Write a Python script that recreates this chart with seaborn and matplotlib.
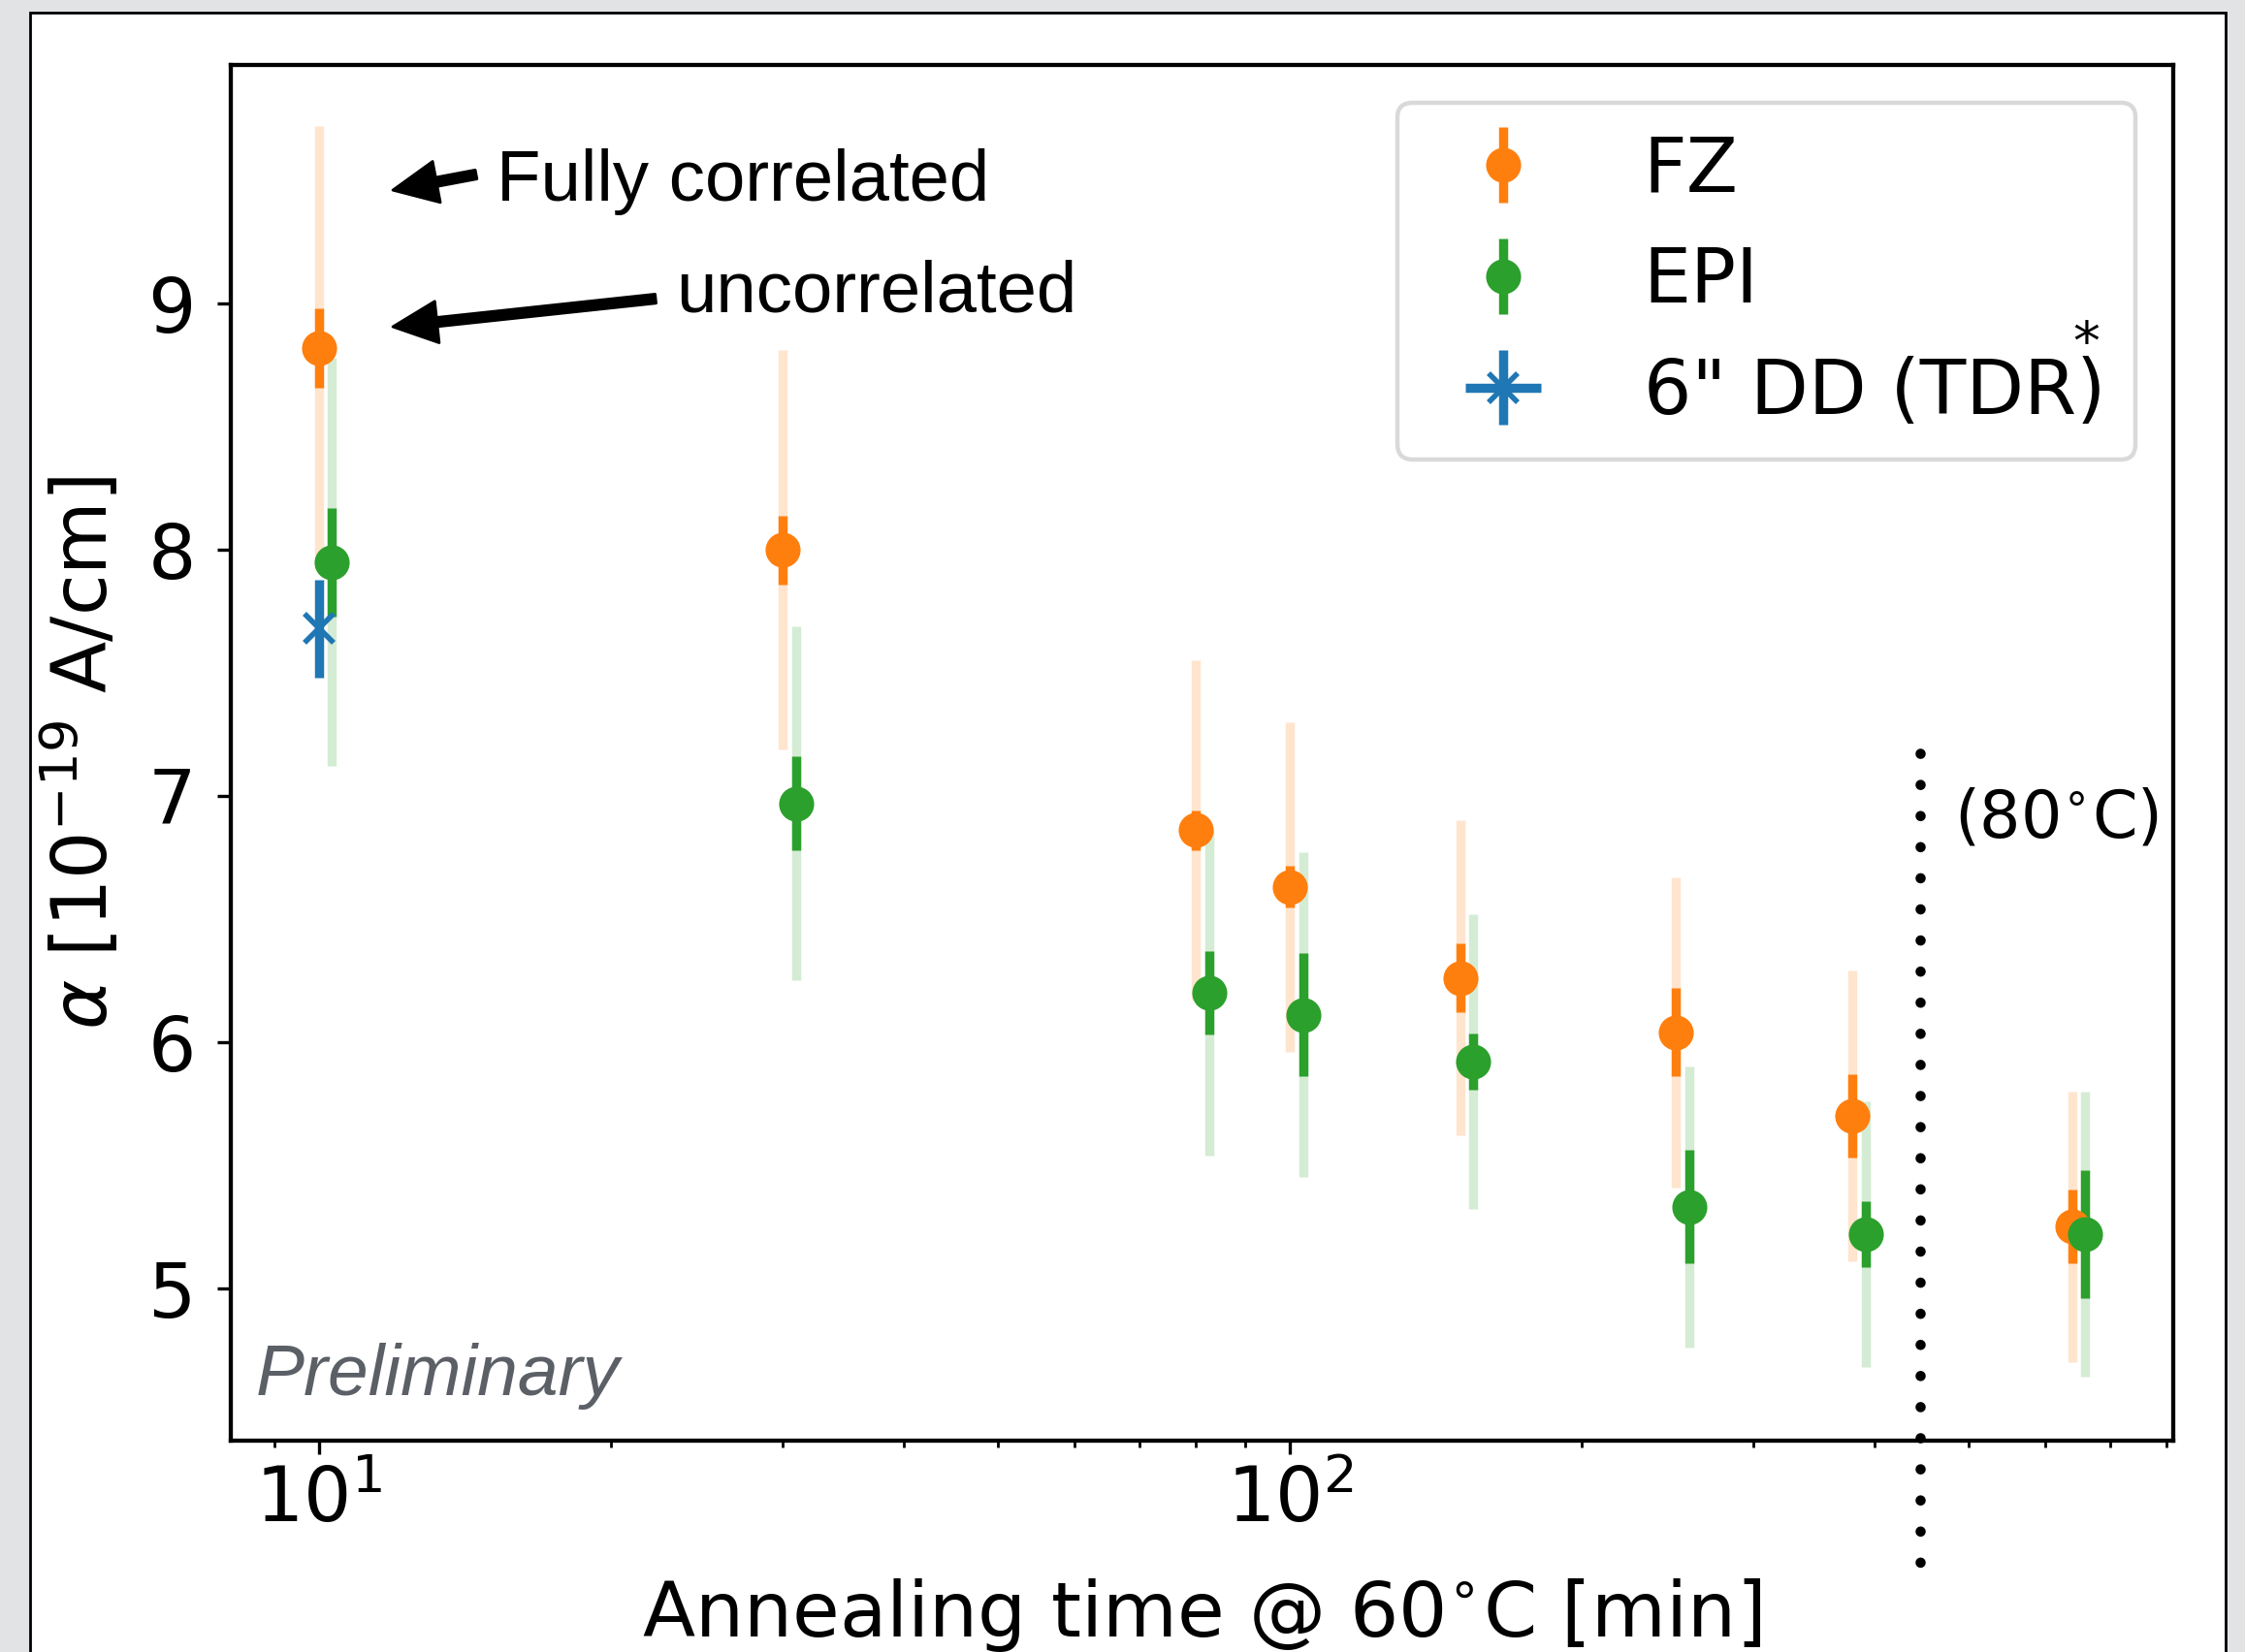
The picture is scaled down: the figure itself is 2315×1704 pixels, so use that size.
import numpy as np
import pandas as pd
import matplotlib
matplotlib.use('Agg')
import matplotlib.pyplot as plt
import seaborn as sns
from matplotlib.patches import Rectangle
from matplotlib.transforms import IdentityTransform
from matplotlib.ticker import NullFormatter

# ---------------- data ----------------
fz_time = [10, 30, 80, 100, 150, 250, 380, 640]
fz_alpha = [8.82, 8.00, 6.86, 6.63, 6.26, 6.04, 5.70, 5.25]
fz_err_uncorr = [0.16, 0.14, 0.08, 0.085, 0.14, 0.18, 0.17, 0.15]
fz_err_full = [0.90, 0.81, 0.69, 0.67, 0.64, 0.63, 0.59, 0.55]

epi_time = [10.3, 31.0, 82.6, 103.2, 154.5, 258, 392, 660]
epi_alpha = [7.95, 6.97, 6.20, 6.11, 5.92, 5.33, 5.22, 5.22]
epi_err_uncorr = [0.22, 0.19, 0.17, 0.25, 0.115, 0.23, 0.135, 0.26]
epi_err_full = [0.83, 0.72, 0.66, 0.66, 0.60, 0.57, 0.54, 0.58]

dd_time = [10]
dd_alpha = [7.68]
dd_err = [0.20]

separator_time = 446
separator_span = [0.5, -0.095]   # axes fraction, top -> bottom
labels = ['FZ', 'EPI', '6" DD (TDR)']

# ---------------- style ----------------
sns.set_theme(style='ticks')
plt.rcParams['font.family'] = ['DejaVu Sans']
plt.rcParams['mathtext.fontset'] = 'dejavusans'
FS = 28

pal = sns.color_palette('tab10')
c_dd, c_fz, c_epi = pal[0], pal[1], pal[2]

W, H, DPI = 2315, 1704, 200
fig = plt.figure(figsize=(W / DPI, H / DPI), dpi=DPI, facecolor='#e2e3e5')
fig.patches.append(Rectangle((31 / W, -0.02), (2295 - 31) / W, 1.02 - 13.3 / H,
                             transform=fig.transFigure, facecolor='white',
                             edgecolor='black', lw=1.0, zorder=-10))
ax = fig.add_axes([238 / W, 1 - 1486 / H, 2003 / W, 1419 / H])
ax.set_facecolor('white')

fz = pd.DataFrame({'t': fz_time, 'a': fz_alpha, 'eu': fz_err_uncorr, 'ef': fz_err_full})
epi = pd.DataFrame({'t': epi_time, 'a': epi_alpha, 'eu': epi_err_uncorr, 'ef': epi_err_full})

EW = 3.4
for df, col, lab in [(fz, c_fz, labels[0]), (epi, c_epi, labels[1])]:
    ax.errorbar(df['t'], df['a'], yerr=df['ef'], fmt='none', ecolor=col,
                alpha=0.2, elinewidth=EW)
    ax.errorbar(df['t'], df['a'], yerr=df['eu'], fmt='o', color=col, ms=12,
                elinewidth=EW, label=lab)

ax.errorbar(dd_time, dd_alpha, yerr=dd_err, xerr=[0], fmt='x', color=c_dd,
            ms=11, mew=2.0, elinewidth=EW, label=labels[2])

ax.plot([separator_time, separator_time], separator_span,
        transform=ax.get_xaxis_transform(), color='black', lw=3.8,
        linestyle=(0, (0.01, 3.03)), dash_capstyle='round', clip_on=False)

ax.set_xscale('log')
ax.set_xlim(8.11, 813)
ax.set_ylim(4.38, 9.97)
ax.set_yticks([5, 6, 7, 8, 9])
ax.xaxis.set_minor_formatter(NullFormatter())

ax.tick_params(which='major', length=5, width=1.2, direction='out',
               labelsize=FS, colors='black')
ax.tick_params(which='minor', length=2.5, width=1.0, direction='out', colors='black')
ax.tick_params(axis='y', pad=8)
for s in ax.spines.values():
    s.set_linewidth(1.55)
    s.set_color('black')
    s.set_visible(True)

ax.set_xlabel(r'Annealing time @ 60$^{\circ}$C [min]', fontsize=28.5, labelpad=14.5, color='black')
ax.set_ylabel(r'$\alpha$ [$10^{-19}$ A/cm]', fontsize=FS, labelpad=9, color='black')

leg = ax.legend(loc='upper right', fontsize=FS, labelspacing=0.5, handletextpad=0.86,
                fancybox=True, framealpha=1, edgecolor='#d9d9d9')
leg.get_frame().set_linewidth(1.6)
for t in leg.get_texts():
    t.set_color('black')

# annotations
ann_font = ['Liberation Sans', 'DejaVu Sans']
arrow_kw = dict(facecolor='black', edgecolor='black', width=3.4, headwidth=15.5,
                headlength=16.5, shrink=0.0)
ax.annotate('', xy=(0.0834, 0.9090), xytext=(0.1263, 0.9204),
            xycoords='axes fraction', textcoords='axes fraction', arrowprops=arrow_kw)
ax.annotate('', xy=(0.0834, 0.8097), xytext=(0.2187, 0.8301),
            xycoords='axes fraction', textcoords='axes fraction', arrowprops=arrow_kw)
ax.text(0.137, 0.9013, 'Fully correlated', transform=ax.transAxes, fontsize=26.8,
        family=ann_font, va='baseline', ha='left', color='black')
ax.text(0.229, 0.8203, 'uncorrelated', transform=ax.transAxes, fontsize=26.8,
        family=ann_font, va='baseline', ha='left', color='black')
ax.text(0.013, 0.033, 'Preliminary', transform=ax.transAxes, fontsize=27,
        family=ann_font, style='italic', va='baseline', ha='left', color='#5b5f66')
ax.text(0.8872, 0.4385, r'(80$^{\circ}$C)', transform=ax.transAxes, fontsize=24,
        va='baseline', ha='left', color='black')

# asterisk above the closing parenthesis of the TDR legend label
fig.canvas.draw()
bb = leg.get_texts()[2].get_window_extent()
fig.text(bb.x1 - 20, bb.y1 + 11, '*', transform=IdentityTransform(), fontsize=20,
         ha='center', va='center', color='black')

fig.savefig('out.png', dpi=DPI, facecolor=fig.get_facecolor())
